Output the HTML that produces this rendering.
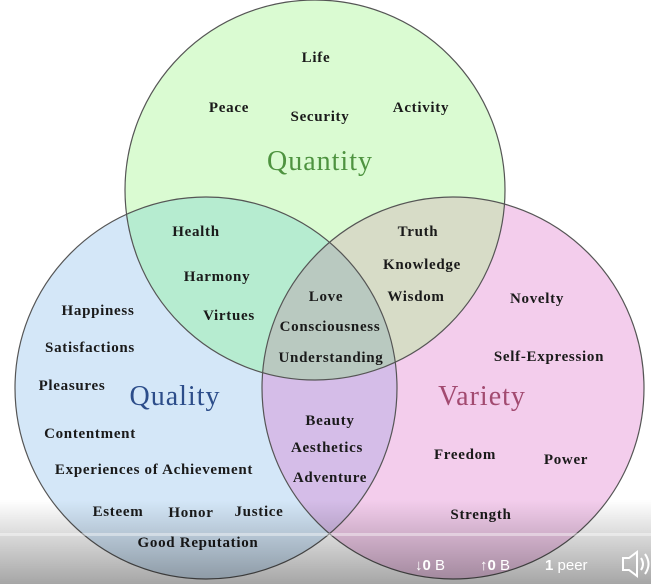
<!DOCTYPE html>
<html><head><meta charset="utf-8"><style>
html,body{margin:0;padding:0;width:651px;height:584px;overflow:hidden;background:#fff}
svg{display:block}
.t{font-family:"Liberation Serif",serif;font-weight:bold;font-size:15px;letter-spacing:0.7px;fill:#1a1a1a;text-anchor:middle}
.h{font-family:"Liberation Serif",serif;font-size:28px;letter-spacing:1px;text-anchor:middle}
.o{font-family:"Liberation Sans",sans-serif;font-size:15px;fill:#fff}
</style></head><body>
<svg width="651" height="584" viewBox="0 0 651 584">
<defs>
<linearGradient id="g" x1="0" y1="0" x2="0" y2="1">
<stop offset="0" stop-color="#000" stop-opacity="0"/><stop offset="1" stop-color="#000" stop-opacity="0.35"/></linearGradient>
<clipPath id="cG"><circle cx="315" cy="190" r="190"/></clipPath>
<clipPath id="cB"><circle cx="206" cy="388" r="191"/></clipPath>
<clipPath id="cP"><circle cx="453" cy="388" r="191"/></clipPath>
</defs>
<circle cx="315" cy="190" r="190" fill="#dafbd2"/>
<circle cx="206" cy="388" r="191" fill="#d4e7f8"/>
<circle cx="453" cy="388" r="191" fill="#f3cdec"/>
<g clip-path="url(#cG)"><circle cx="206" cy="388" r="191" fill="#b6ecd0"/><circle cx="453" cy="388" r="191" fill="#d7dcc7"/></g>
<g clip-path="url(#cB)"><circle cx="453" cy="388" r="191" fill="#d5bde8"/></g>
<g clip-path="url(#cG)"><g clip-path="url(#cB)"><circle cx="453" cy="388" r="191" fill="#b9c9c0"/></g></g>
<g fill="none" stroke="#555" stroke-width="1.2">
<circle cx="315" cy="190" r="190"/><circle cx="206" cy="388" r="191"/><circle cx="453" cy="388" r="191"/>
</g>
<text class="h" x="320" y="170" fill="#4e9340">Quantity</text>
<text class="h" x="175" y="405" fill="#2c4d8a">Quality</text>
<text class="h" x="482" y="405" fill="#a24a70">Variety</text>
<g class="t">
<text x="316" y="62">Life</text><text x="229" y="112">Peace</text><text x="320" y="121">Security</text><text x="421" y="112">Activity</text>
<text x="196" y="236">Health</text><text x="217" y="281">Harmony</text><text x="229" y="320">Virtues</text>
<text x="418" y="236">Truth</text><text x="422" y="269">Knowledge</text><text x="416" y="301">Wisdom</text>
<text x="326" y="301">Love</text><text x="330" y="331">Consciousness</text><text x="331" y="362">Understanding</text>
<text x="98" y="315">Happiness</text><text x="90" y="352">Satisfactions</text><text x="72" y="390">Pleasures</text>
<text x="90" y="438">Contentment</text><text x="154" y="474">Experiences of Achievement</text>
<text x="118" y="516">Esteem</text><text x="191" y="517">Honor</text><text x="259" y="516">Justice</text>
<text x="198" y="547">Good Reputation</text>
<text x="330" y="425">Beauty</text><text x="327" y="452">Aesthetics</text><text x="330" y="482">Adventure</text>
<text x="537" y="303">Novelty</text><text x="549" y="361">Self-Expression</text>
<text x="465" y="459">Freedom</text><text x="566" y="464">Power</text><text x="481" y="519">Strength</text>
</g>
<rect x="0" y="500" width="651" height="84" fill="url(#g)"/>
<rect x="0" y="533" width="651" height="3" fill="#fff" opacity="0.4"/>
<text class="o" x="415" y="570">↓<tspan font-weight="bold">0</tspan> B</text>
<text class="o" x="480" y="570">↑<tspan font-weight="bold">0</tspan> B</text>
<text class="o" x="545" y="570"><tspan font-weight="bold">1</tspan> peer</text>
<path d="M623 558h6l8-6v24l-8-6h-6z" fill="none" stroke="#fff" stroke-width="2"/>
<path d="M641 558q4 6 0 12M645 554q7 10 0 20" fill="none" stroke="#fff" stroke-width="2"/>
</svg>
</body></html>
